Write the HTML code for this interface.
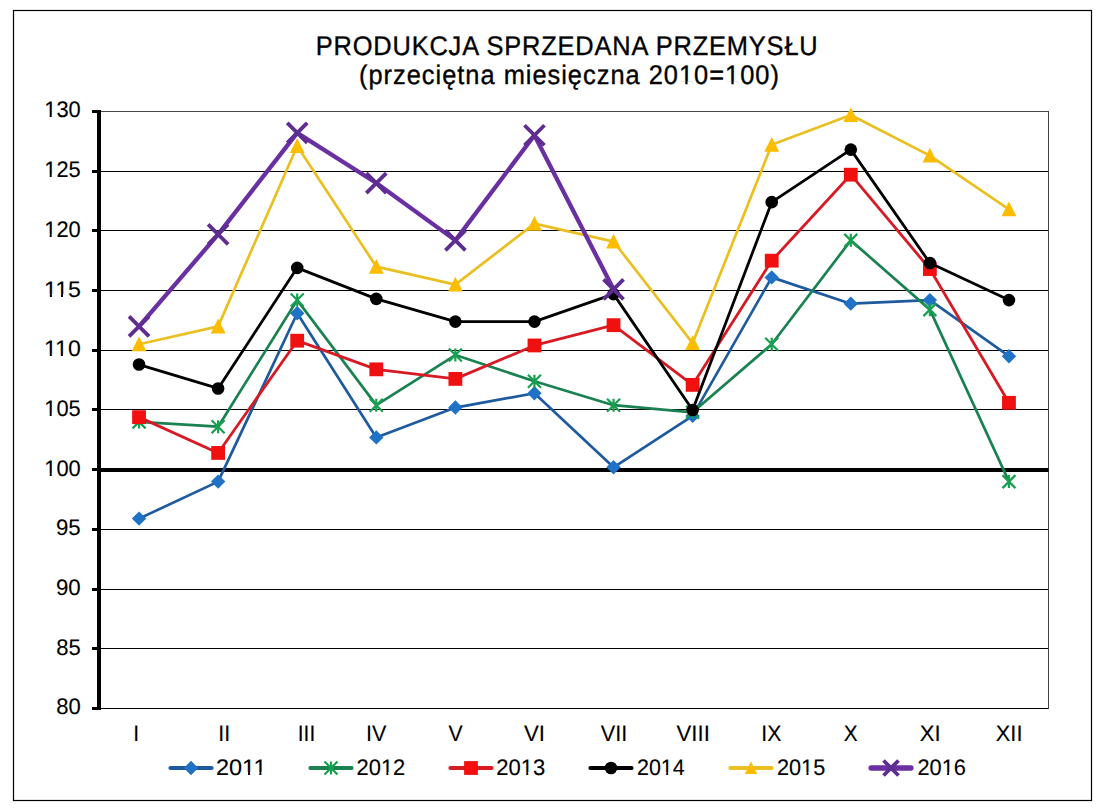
<!DOCTYPE html>
<html><head><meta charset="utf-8"><style>
html,body{margin:0;padding:0;background:#fff;width:1108px;height:809px;overflow:hidden}
svg{display:block;text-rendering:geometricPrecision}
.t{font-family:"Liberation Sans",sans-serif;fill:#000;stroke:#000;stroke-width:0.12px}
</style></head><body>
<svg width="1108" height="809" viewBox="0 0 1108 809">
<rect x="13.5" y="10.5" width="1078" height="790" fill="#fff" stroke="#000" stroke-width="1.2"/>
<rect x="99" y="708" width="949.5" height="1" fill="#000"/>
<rect x="99" y="648" width="949.5" height="1" fill="#000"/>
<rect x="99" y="589" width="949.5" height="1" fill="#000"/>
<rect x="99" y="529" width="949.5" height="1" fill="#000"/>
<rect x="99" y="409" width="949.5" height="1" fill="#000"/>
<rect x="99" y="350" width="949.5" height="1" fill="#000"/>
<rect x="99" y="290" width="949.5" height="1" fill="#000"/>
<rect x="99" y="230" width="949.5" height="1" fill="#000"/>
<rect x="99" y="171" width="949.5" height="1" fill="#000"/>
<rect x="1048" y="111" width="1" height="598" fill="#444444"/>
<rect x="99" y="111" width="950" height="1" fill="#444444"/>
<rect x="99" y="468" width="949.5" height="4" fill="#000"/>
<rect x="97" y="110" width="4" height="600" fill="#000"/>
<rect x="92" y="707" width="6" height="3" fill="#000"/>
<rect x="92" y="647" width="6" height="3" fill="#000"/>
<rect x="92" y="588" width="6" height="3" fill="#000"/>
<rect x="92" y="528" width="6" height="3" fill="#000"/>
<rect x="92" y="468" width="6" height="3" fill="#000"/>
<rect x="92" y="408" width="6" height="3" fill="#000"/>
<rect x="92" y="349" width="6" height="3" fill="#000"/>
<rect x="92" y="289" width="6" height="3" fill="#000"/>
<rect x="92" y="229" width="6" height="3" fill="#000"/>
<rect x="92" y="170" width="6" height="3" fill="#000"/>
<rect x="92" y="110" width="6" height="3" fill="#000"/>
<text x="315.750" y="54.950" font-size="27" textLength="533.989" lengthAdjust="spacing" transform="matrix(0.94,0,0,1,18.945,0)" class="t" style="stroke-width:0.35px">PRODUKCJA SPRZEDANA PRZEMYSŁU</text>
<text x="359.000" y="84.250" font-size="27" textLength="446.649" lengthAdjust="spacing" transform="matrix(0.94,0,0,1,21.540,0)" class="t" style="stroke-width:0.35px">(przeciętna miesięczna 2010=100)</text>
<text x="56.250" y="714.450" font-size="22.5" textLength="24.500" lengthAdjust="spacingAndGlyphs" class="t">80</text>
<text x="56.250" y="654.850" font-size="22.5" textLength="24.500" lengthAdjust="spacingAndGlyphs" class="t">85</text>
<text x="56.000" y="595.250" font-size="22.5" textLength="24.750" lengthAdjust="spacingAndGlyphs" class="t">90</text>
<text x="56.000" y="535.400" font-size="22.5" textLength="24.750" lengthAdjust="spacingAndGlyphs" class="t">95</text>
<text x="44.250" y="475.600" font-size="22.5" textLength="36.450" lengthAdjust="spacingAndGlyphs" class="t">100</text>
<text x="44.250" y="415.950" font-size="22.5" textLength="36.450" lengthAdjust="spacingAndGlyphs" class="t">105</text>
<text x="44.000" y="356.300" font-size="22.5" textLength="36.700" lengthAdjust="spacingAndGlyphs" class="t">110</text>
<text x="44.000" y="296.650" font-size="22.5" textLength="36.950" lengthAdjust="spacingAndGlyphs" class="t">115</text>
<text x="44.250" y="236.750" font-size="22.5" textLength="36.450" lengthAdjust="spacingAndGlyphs" class="t">120</text>
<text x="44.250" y="177.100" font-size="22.5" textLength="36.450" lengthAdjust="spacingAndGlyphs" class="t">125</text>
<text x="44.250" y="117.450" font-size="22.5" textLength="36.450" lengthAdjust="spacingAndGlyphs" class="t">130</text>
<text x="133.250" y="740.650" font-size="22.5" textLength="5.900" lengthAdjust="spacingAndGlyphs" class="t">I</text>
<text x="218.250" y="740.650" font-size="22.5" textLength="11.900" lengthAdjust="spacingAndGlyphs" class="t">II</text>
<text x="297.750" y="740.650" font-size="22.5" textLength="17.450" lengthAdjust="spacingAndGlyphs" class="t">III</text>
<text x="366.000" y="740.650" font-size="22.5" textLength="20.400" lengthAdjust="spacingAndGlyphs" class="t">IV</text>
<text x="448.500" y="740.650" font-size="22.5" textLength="14.150" lengthAdjust="spacingAndGlyphs" class="t">V</text>
<text x="524.000" y="740.650" font-size="22.5" textLength="21.050" lengthAdjust="spacingAndGlyphs" class="t">VI</text>
<text x="600.750" y="740.650" font-size="22.5" textLength="26.550" lengthAdjust="spacingAndGlyphs" class="t">VII</text>
<text x="676.500" y="740.650" font-size="22.5" textLength="33.300" lengthAdjust="spacingAndGlyphs" class="t">VIII</text>
<text x="761.250" y="740.650" font-size="22.5" textLength="20.100" lengthAdjust="spacingAndGlyphs" class="t">IX</text>
<text x="843.750" y="740.650" font-size="22.5" textLength="13.900" lengthAdjust="spacingAndGlyphs" class="t">X</text>
<text x="919.750" y="740.650" font-size="22.5" textLength="20.850" lengthAdjust="spacingAndGlyphs" class="t">XI</text>
<text x="995.750" y="740.650" font-size="22.5" textLength="26.700" lengthAdjust="spacingAndGlyphs" class="t">XII</text>
<text x="216.000" y="774.550" font-size="22.5" textLength="50.500" lengthAdjust="spacingAndGlyphs" class="t">2011</text>
<text x="356.500" y="774.550" font-size="22.5" textLength="48.800" lengthAdjust="spacingAndGlyphs" class="t">2012</text>
<text x="496.250" y="774.550" font-size="22.5" textLength="49.000" lengthAdjust="spacingAndGlyphs" class="t">2013</text>
<text x="637.000" y="774.550" font-size="22.5" textLength="47.700" lengthAdjust="spacingAndGlyphs" class="t">2014</text>
<text x="777.000" y="774.550" font-size="22.5" textLength="48.250" lengthAdjust="spacingAndGlyphs" class="t">2015</text>
<text x="917.500" y="774.550" font-size="22.5" textLength="48.400" lengthAdjust="spacingAndGlyphs" class="t">2016</text>
<rect x="700.12" y="81.38" width="6.01" height="3.77" fill="#fff" transform="matrix(0.94,0,0,1,21.540,0)"/>
<rect x="708.55" y="81.38" width="5.50" height="3.77" fill="#fff" transform="matrix(0.94,0,0,1,21.540,0)"/>
<rect x="749.14" y="81.38" width="6.01" height="3.77" fill="#fff" transform="matrix(0.94,0,0,1,21.540,0)"/>
<rect x="757.57" y="81.38" width="5.50" height="3.77" fill="#fff" transform="matrix(0.94,0,0,1,21.540,0)"/>
<rect x="44.61" y="473.07" width="5.11" height="3.43" fill="#fff"/>
<rect x="51.69" y="473.07" width="4.64" height="3.43" fill="#fff"/>
<rect x="44.61" y="413.42" width="5.11" height="3.43" fill="#fff"/>
<rect x="51.69" y="413.42" width="4.64" height="3.43" fill="#fff"/>
<rect x="44.45" y="353.77" width="5.31" height="3.43" fill="#fff"/>
<rect x="51.84" y="353.77" width="4.83" height="3.43" fill="#fff"/>
<rect x="55.53" y="353.77" width="5.31" height="3.43" fill="#fff"/>
<rect x="62.92" y="353.77" width="4.83" height="3.43" fill="#fff"/>
<rect x="44.47" y="294.12" width="5.34" height="3.43" fill="#fff"/>
<rect x="51.90" y="294.12" width="4.86" height="3.43" fill="#fff"/>
<rect x="55.62" y="294.12" width="5.34" height="3.43" fill="#fff"/>
<rect x="63.05" y="294.12" width="4.86" height="3.43" fill="#fff"/>
<rect x="44.61" y="234.22" width="5.11" height="3.43" fill="#fff"/>
<rect x="51.69" y="234.22" width="4.64" height="3.43" fill="#fff"/>
<rect x="44.61" y="174.57" width="5.11" height="3.43" fill="#fff"/>
<rect x="51.69" y="174.57" width="4.64" height="3.43" fill="#fff"/>
<rect x="44.61" y="114.92" width="5.11" height="3.43" fill="#fff"/>
<rect x="51.69" y="114.92" width="4.64" height="3.43" fill="#fff"/>
<rect x="242.59" y="772.02" width="5.40" height="3.43" fill="#fff"/>
<rect x="250.11" y="772.02" width="4.91" height="3.43" fill="#fff"/>
<rect x="253.91" y="772.02" width="5.40" height="3.43" fill="#fff"/>
<rect x="261.42" y="772.02" width="4.91" height="3.43" fill="#fff"/>
<rect x="381.26" y="772.02" width="5.12" height="3.43" fill="#fff"/>
<rect x="388.36" y="772.02" width="4.65" height="3.43" fill="#fff"/>
<rect x="521.11" y="772.02" width="5.14" height="3.43" fill="#fff"/>
<rect x="528.24" y="772.02" width="4.67" height="3.43" fill="#fff"/>
<rect x="661.17" y="772.02" width="5.04" height="3.43" fill="#fff"/>
<rect x="668.14" y="772.02" width="4.57" height="3.43" fill="#fff"/>
<rect x="801.46" y="772.02" width="5.08" height="3.43" fill="#fff"/>
<rect x="808.50" y="772.02" width="4.61" height="3.43" fill="#fff"/>
<rect x="942.04" y="772.02" width="5.09" height="3.43" fill="#fff"/>
<rect x="949.10" y="772.02" width="4.62" height="3.43" fill="#fff"/>
<polyline points="139.04,518.62 218.12,481.60 297.21,313.22 376.29,437.42 455.38,407.56 534.46,393.23 613.54,467.27 692.62,415.92 771.71,277.39 850.79,303.67 929.88,300.08 1008.96,356.21" fill="none" stroke="#1d5a9e" stroke-width="2.7" stroke-linejoin="round" stroke-linecap="round"/>
<path d="M139.04 511.42L146.24 518.62L139.04 525.82L131.84 518.62Z" fill="#1f72c6"/>
<path d="M218.12 474.40L225.32 481.60L218.12 488.80L210.93 481.60Z" fill="#1f72c6"/>
<path d="M297.21 306.02L304.41 313.22L297.21 320.42L290.01 313.22Z" fill="#1f72c6"/>
<path d="M376.29 430.22L383.49 437.42L376.29 444.62L369.09 437.42Z" fill="#1f72c6"/>
<path d="M455.38 400.36L462.57 407.56L455.38 414.76L448.18 407.56Z" fill="#1f72c6"/>
<path d="M534.46 386.03L541.66 393.23L534.46 400.43L527.26 393.23Z" fill="#1f72c6"/>
<path d="M613.54 460.07L620.74 467.27L613.54 474.47L606.34 467.27Z" fill="#1f72c6"/>
<path d="M692.62 408.72L699.83 415.92L692.62 423.12L685.42 415.92Z" fill="#1f72c6"/>
<path d="M771.71 270.19L778.91 277.39L771.71 284.59L764.51 277.39Z" fill="#1f72c6"/>
<path d="M850.79 296.47L857.99 303.67L850.79 310.87L843.59 303.67Z" fill="#1f72c6"/>
<path d="M929.88 292.88L937.08 300.08L929.88 307.28L922.67 300.08Z" fill="#1f72c6"/>
<path d="M1008.96 349.01L1016.16 356.21L1008.96 363.41L1001.76 356.21Z" fill="#1f72c6"/>
<polyline points="139.04,421.89 218.12,426.67 297.21,300.08 376.29,405.17 455.38,355.02 534.46,381.29 613.54,405.17 692.62,412.34 771.71,344.27 850.79,240.37 929.88,309.64 1008.96,481.60" fill="none" stroke="#1a8250" stroke-width="2.7" stroke-linejoin="round" stroke-linecap="round"/>
<path d="M132.54 415.39L145.54 428.39M145.54 415.39L132.54 428.39M139.04 415.39L139.04 428.39" stroke="#16a050" stroke-width="2.2" fill="none"/>
<path d="M211.62 420.17L224.62 433.17M224.62 420.17L211.62 433.17M218.12 420.17L218.12 433.17" stroke="#16a050" stroke-width="2.2" fill="none"/>
<path d="M290.71 293.58L303.71 306.58M303.71 293.58L290.71 306.58M297.21 293.58L297.21 306.58" stroke="#16a050" stroke-width="2.2" fill="none"/>
<path d="M369.79 398.67L382.79 411.67M382.79 398.67L369.79 411.67M376.29 398.67L376.29 411.67" stroke="#16a050" stroke-width="2.2" fill="none"/>
<path d="M448.88 348.52L461.88 361.52M461.88 348.52L448.88 361.52M455.38 348.52L455.38 361.52" stroke="#16a050" stroke-width="2.2" fill="none"/>
<path d="M527.96 374.79L540.96 387.79M540.96 374.79L527.96 387.79M534.46 374.79L534.46 387.79" stroke="#16a050" stroke-width="2.2" fill="none"/>
<path d="M607.04 398.67L620.04 411.67M620.04 398.67L607.04 411.67M613.54 398.67L613.54 411.67" stroke="#16a050" stroke-width="2.2" fill="none"/>
<path d="M686.12 405.84L699.12 418.84M699.12 405.84L686.12 418.84M692.62 405.84L692.62 418.84" stroke="#16a050" stroke-width="2.2" fill="none"/>
<path d="M765.21 337.77L778.21 350.77M778.21 337.77L765.21 350.77M771.71 337.77L771.71 350.77" stroke="#16a050" stroke-width="2.2" fill="none"/>
<path d="M844.29 233.87L857.29 246.87M857.29 233.87L844.29 246.87M850.79 233.87L850.79 246.87" stroke="#16a050" stroke-width="2.2" fill="none"/>
<path d="M923.38 303.14L936.38 316.14M936.38 303.14L923.38 316.14M929.88 303.14L929.88 316.14" stroke="#16a050" stroke-width="2.2" fill="none"/>
<path d="M1002.46 475.10L1015.46 488.10M1015.46 475.10L1002.46 488.10M1008.96 475.10L1008.96 488.10" stroke="#16a050" stroke-width="2.2" fill="none"/>
<polyline points="139.04,417.12 218.12,452.94 297.21,340.69 376.29,369.35 455.38,378.90 534.46,345.46 613.54,325.16 692.62,384.87 771.71,260.68 850.79,174.69 929.88,269.03 1008.96,402.78" fill="none" stroke="#d81a24" stroke-width="2.8" stroke-linejoin="round" stroke-linecap="round"/>
<rect x="132.14" y="410.22" width="13.8" height="13.8" fill="#f01010"/>
<rect x="211.22" y="446.04" width="13.8" height="13.8" fill="#f01010"/>
<rect x="290.31" y="333.79" width="13.8" height="13.8" fill="#f01010"/>
<rect x="369.39" y="362.45" width="13.8" height="13.8" fill="#f01010"/>
<rect x="448.48" y="372.00" width="13.8" height="13.8" fill="#f01010"/>
<rect x="527.56" y="338.56" width="13.8" height="13.8" fill="#f01010"/>
<rect x="606.64" y="318.26" width="13.8" height="13.8" fill="#f01010"/>
<rect x="685.73" y="377.97" width="13.8" height="13.8" fill="#f01010"/>
<rect x="764.81" y="253.78" width="13.8" height="13.8" fill="#f01010"/>
<rect x="843.89" y="167.79" width="13.8" height="13.8" fill="#f01010"/>
<rect x="922.98" y="262.13" width="13.8" height="13.8" fill="#f01010"/>
<rect x="1002.06" y="395.88" width="13.8" height="13.8" fill="#f01010"/>
<polyline points="139.04,364.57 218.12,388.45 297.21,267.84 376.29,298.89 455.38,321.58 534.46,321.58 613.54,294.11 692.62,409.95 771.71,202.16 850.79,149.61 929.88,263.06 1008.96,300.08" fill="none" stroke="#000000" stroke-width="2.8" stroke-linejoin="round" stroke-linecap="round"/>
<circle cx="139.04" cy="364.57" r="6.3" fill="#000000"/>
<circle cx="218.12" cy="388.45" r="6.3" fill="#000000"/>
<circle cx="297.21" cy="267.84" r="6.3" fill="#000000"/>
<circle cx="376.29" cy="298.89" r="6.3" fill="#000000"/>
<circle cx="455.38" cy="321.58" r="6.3" fill="#000000"/>
<circle cx="534.46" cy="321.58" r="6.3" fill="#000000"/>
<circle cx="613.54" cy="294.11" r="6.3" fill="#000000"/>
<circle cx="692.62" cy="409.95" r="6.3" fill="#000000"/>
<circle cx="771.71" cy="202.16" r="6.3" fill="#000000"/>
<circle cx="850.79" cy="149.61" r="6.3" fill="#000000"/>
<circle cx="929.88" cy="263.06" r="6.3" fill="#000000"/>
<circle cx="1008.96" cy="300.08" r="6.3" fill="#000000"/>
<polyline points="139.04,344.27 218.12,326.36 297.21,146.03 376.29,266.65 455.38,284.56 534.46,223.65 613.54,241.57 692.62,343.07 771.71,144.84 850.79,114.98 929.88,155.59 1008.96,209.32" fill="none" stroke="#eabf22" stroke-width="2.7" stroke-linejoin="round" stroke-linecap="round"/>
<path d="M139.04 336.50L146.44 351.30L131.64 351.30Z" fill="#fcbc00"/>
<path d="M218.12 318.59L225.53 333.39L210.72 333.39Z" fill="#fcbc00"/>
<path d="M297.21 138.26L304.61 153.06L289.81 153.06Z" fill="#fcbc00"/>
<path d="M376.29 258.88L383.69 273.68L368.89 273.68Z" fill="#fcbc00"/>
<path d="M455.38 276.79L462.77 291.59L447.98 291.59Z" fill="#fcbc00"/>
<path d="M534.46 215.88L541.86 230.68L527.06 230.68Z" fill="#fcbc00"/>
<path d="M613.54 233.80L620.94 248.60L606.14 248.60Z" fill="#fcbc00"/>
<path d="M692.62 335.30L700.02 350.10L685.23 350.10Z" fill="#fcbc00"/>
<path d="M771.71 137.07L779.11 151.87L764.31 151.87Z" fill="#fcbc00"/>
<path d="M850.79 107.21L858.19 122.01L843.39 122.01Z" fill="#fcbc00"/>
<path d="M929.88 147.82L937.27 162.62L922.48 162.62Z" fill="#fcbc00"/>
<path d="M1008.96 201.55L1016.36 216.35L1001.56 216.35Z" fill="#fcbc00"/>
<polyline points="139.04,326.36 218.12,234.40 297.21,132.90 376.29,183.05 455.38,240.37 534.46,135.28 613.54,289.34" fill="none" stroke="#6a2fa0" stroke-width="4.3" stroke-linejoin="round" stroke-linecap="round"/>
<path d="M129.04 316.36L149.04 336.36M149.04 316.36L129.04 336.36" stroke="#5f2d92" stroke-width="3.8" fill="none"/>
<path d="M208.12 224.40L228.12 244.40M228.12 224.40L208.12 244.40" stroke="#5f2d92" stroke-width="3.8" fill="none"/>
<path d="M287.21 122.90L307.21 142.90M307.21 122.90L287.21 142.90" stroke="#5f2d92" stroke-width="3.8" fill="none"/>
<path d="M366.29 173.05L386.29 193.05M386.29 173.05L366.29 193.05" stroke="#5f2d92" stroke-width="3.8" fill="none"/>
<path d="M445.38 230.37L465.38 250.37M465.38 230.37L445.38 250.37" stroke="#5f2d92" stroke-width="3.8" fill="none"/>
<path d="M524.46 125.28L544.46 145.28M544.46 125.28L524.46 145.28" stroke="#5f2d92" stroke-width="3.8" fill="none"/>
<path d="M603.54 279.34L623.54 299.34M623.54 279.34L603.54 299.34" stroke="#5f2d92" stroke-width="3.8" fill="none"/>
<line x1="170.40" y1="768" x2="211.60" y2="768" stroke="#1d5a9e" stroke-width="4" stroke-linecap="round"/>
<path d="M191.00 760.80L198.20 768.00L191.00 775.20L183.80 768.00Z" fill="#1f72c6"/>
<line x1="310.40" y1="768" x2="351.60" y2="768" stroke="#1a8250" stroke-width="4" stroke-linecap="round"/>
<path d="M324.50 761.50L337.50 774.50M337.50 761.50L324.50 774.50M331.00 761.50L331.00 774.50" stroke="#16a050" stroke-width="2.2" fill="none"/>
<line x1="450.40" y1="768" x2="491.60" y2="768" stroke="#d81a24" stroke-width="4" stroke-linecap="round"/>
<rect x="464.10" y="761.10" width="13.8" height="13.8" fill="#f01010"/>
<line x1="590.40" y1="768" x2="631.60" y2="768" stroke="#000000" stroke-width="4" stroke-linecap="round"/>
<circle cx="611.00" cy="768.00" r="6.3" fill="#000000"/>
<line x1="730.40" y1="768" x2="771.60" y2="768" stroke="#eabf22" stroke-width="4" stroke-linecap="round"/>
<path d="M751.00 761.49L757.20 773.89L744.80 773.89Z" fill="#fcbc00"/>
<line x1="871.15" y1="768" x2="910.85" y2="768" stroke="#6a2fa0" stroke-width="5.5" stroke-linecap="round"/>
<path d="M883.50 760.50L898.50 775.50M898.50 760.50L883.50 775.50" stroke="#5f2d92" stroke-width="3.8" fill="none"/>
</svg>
</body></html>
